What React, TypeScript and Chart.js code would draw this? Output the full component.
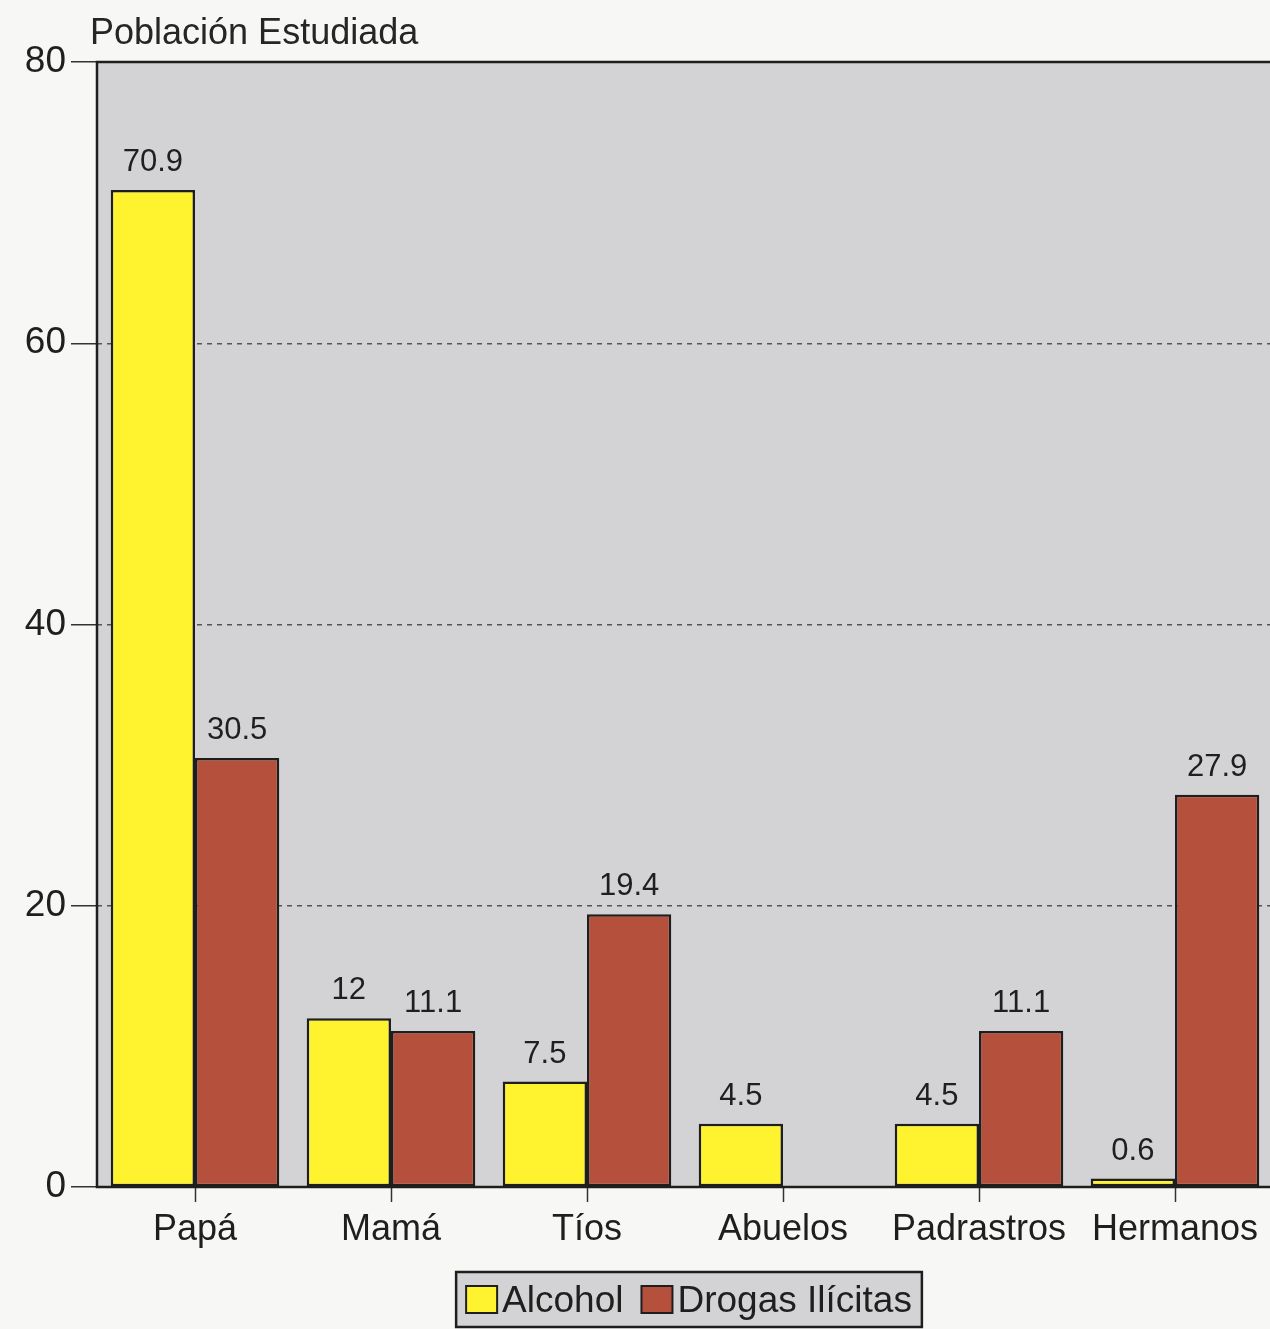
import React, { useEffect, useRef } from "react";
import { Chart, registerables } from "chart.js";

Chart.register(...registerables);

const categories = ["Papá", "Mamá", "Tíos", "Abuelos", "Padrastros", "Hermanos"];
const alcohol = [70.9, 12, 7.5, 4.5, 4.5, 0.6];
const drogas: (number | null)[] = [30.5, 11.1, 19.4, null, 11.1, 27.9];
const yTicks = [0, 20, 40, 60, 80];
const yTitle = "Población Estudiada";
const seriesNames = ["Alcohol", "Drogas Ilícitas"];

const FONT = "'Liberation Sans', Arial, sans-serif";
const YELLOW = "#fff22e";
const BROWN = "#b4503c";
const PLOT_BG = "#d3d3d5";
const PAGE_BG = "#f7f7f5";
const TEXT = "#1f1f1f";

const decorPlugin = {
  id: "decor",
  beforeDraw(chart: any) {
    const { ctx, chartArea: a } = chart;
    ctx.save();
    ctx.fillStyle = PLOT_BG;
    ctx.fillRect(a.left, a.top, a.right - a.left, a.bottom - a.top);
    ctx.restore();
  },
  afterDatasetsDraw(chart: any) {
    const { ctx, chartArea: a } = chart;
    ctx.save();
    ctx.strokeStyle = "#1e1e1e";
    ctx.lineWidth = 2.5;
    ctx.strokeRect(a.left, a.top, a.right - a.left + 20, a.bottom - a.top);
    ctx.font = `31px ${FONT}`;
    ctx.fillStyle = TEXT;
    ctx.textAlign = "center";
    ctx.textBaseline = "bottom";
    chart.data.datasets.forEach((ds: any, di: number) => {
      const meta = chart.getDatasetMeta(di);
      meta.data.forEach((el: any, i: number) => {
        const v = ds.data[i];
        if (v === null || v === undefined) return;
        ctx.fillText(String(v), el.x, el.y - 12);
      });
    });
    ctx.restore();
  },
  afterDraw(chart: any) {
    const { ctx, chartArea: a } = chart;
    ctx.save();
    ctx.font = `36px ${FONT}`;
    ctx.fillStyle = "#262626";
    ctx.textAlign = "left";
    ctx.textBaseline = "alphabetic";
    ctx.fillText(yTitle, a.left - 7, 44);
    ctx.font = `37px ${FONT}`;
    const box = 31, gap = 5, sep = 18, pad = 10;
    const ds = chart.data.datasets;
    let total = pad * 2;
    ds.forEach((d: any, i: number) => {
      total += box + gap + ctx.measureText(d.label).width + (i < ds.length - 1 ? sep : 0);
    });
    const cx = (a.left + a.right) / 2 + 4;
    const left = cx - total / 2;
    const top = 1272, h = 55;
    ctx.fillStyle = PLOT_BG;
    ctx.fillRect(left, top, total, h);
    ctx.strokeStyle = "#1e1e1e";
    ctx.lineWidth = 2.5;
    ctx.strokeRect(left, top, total, h);
    let x = left + pad;
    const midY = top + h / 2;
    ds.forEach((d: any) => {
      ctx.fillStyle = d.backgroundColor;
      ctx.fillRect(x, midY - box / 2 + 2, box, box - 4);
      ctx.lineWidth = 2;
      ctx.strokeStyle = "#1e1e1e";
      ctx.strokeRect(x, midY - box / 2 + 2, box, box - 4);
      x += box + gap;
      ctx.fillStyle = TEXT;
      ctx.textAlign = "left";
      ctx.textBaseline = "middle";
      ctx.fillText(d.label, x, midY + 2);
      x += ctx.measureText(d.label).width + sep;
    });
    ctx.restore();
  },
};

export default function App() {
  const ref = useRef<HTMLCanvasElement | null>(null);
  useEffect(() => {
    document.body.style.margin = "0";
    document.body.style.background = PAGE_BG;
    if (!ref.current) return;
    const chart = new Chart(ref.current, {
      type: "bar",
      data: {
        labels: categories,
        datasets: [
          {
            label: seriesNames[0],
            data: alcohol,
            backgroundColor: YELLOW,
            borderColor: "#1e1e1e",
            borderWidth: 2.5,
            borderSkipped: false,
          },
          {
            label: seriesNames[1],
            data: drogas,
            backgroundColor: BROWN,
            borderColor: "#1e1e1e",
            borderWidth: 2.5,
            borderSkipped: false,
          },
        ],
      },
      options: {
        animation: false,
        responsive: false,
        maintainAspectRatio: false,
        layout: { padding: { top: 62, left: 0, right: 7, bottom: 78 } },
        datasets: { bar: { categoryPercentage: 0.86, barPercentage: 1.0 } },
        plugins: {
          legend: { display: false },
          tooltip: { enabled: false },
          title: { display: false },
        },
        scales: {
          x: {
            afterFit: (s: any) => {
              s.height = 64;
            },
            grid: {
              offset: false,
              drawOnChartArea: false,
              drawTicks: true,
              tickLength: 15,
              tickColor: "#333",
              tickWidth: 1.5,
            },
            border: { display: false },
            ticks: {
              color: TEXT,
              font: { family: FONT, size: 36 },
              padding: 6,
              maxRotation: 0,
              autoSkip: false,
            },
          },
          y: {
            min: 0,
            max: 80,
            afterFit: (s: any) => {
              s.width = 97;
            },
            afterBuildTicks: (s: any) => {
              s.ticks = yTicks.map((v) => ({ value: v }));
            },
            grid: {
              color: (c: any) =>
                c.tick && (c.tick.value === 0 || c.tick.value === 80) ? "rgba(0,0,0,0)" : "#555",
              lineWidth: 1.5,
              drawTicks: true,
              tickLength: 26,
              tickColor: "#333",
              tickWidth: 1.5,
              tickBorderDash: [],
            },
            border: { display: false, dash: [5, 5] },
            ticks: {
              color: TEXT,
              font: { family: FONT, size: 37 },
              padding: 5,
            },
          },
        },
      },
      plugins: [decorPlugin],
    });
    return () => chart.destroy();
  }, []);
  return (
    <div style={{ width: 1270, height: 1329, overflow: "hidden", background: PAGE_BG }}>
      <canvas ref={ref} width={1280} height={1329} style={{ width: 1280, height: 1329, display: "block" }} />
    </div>
  );
}
